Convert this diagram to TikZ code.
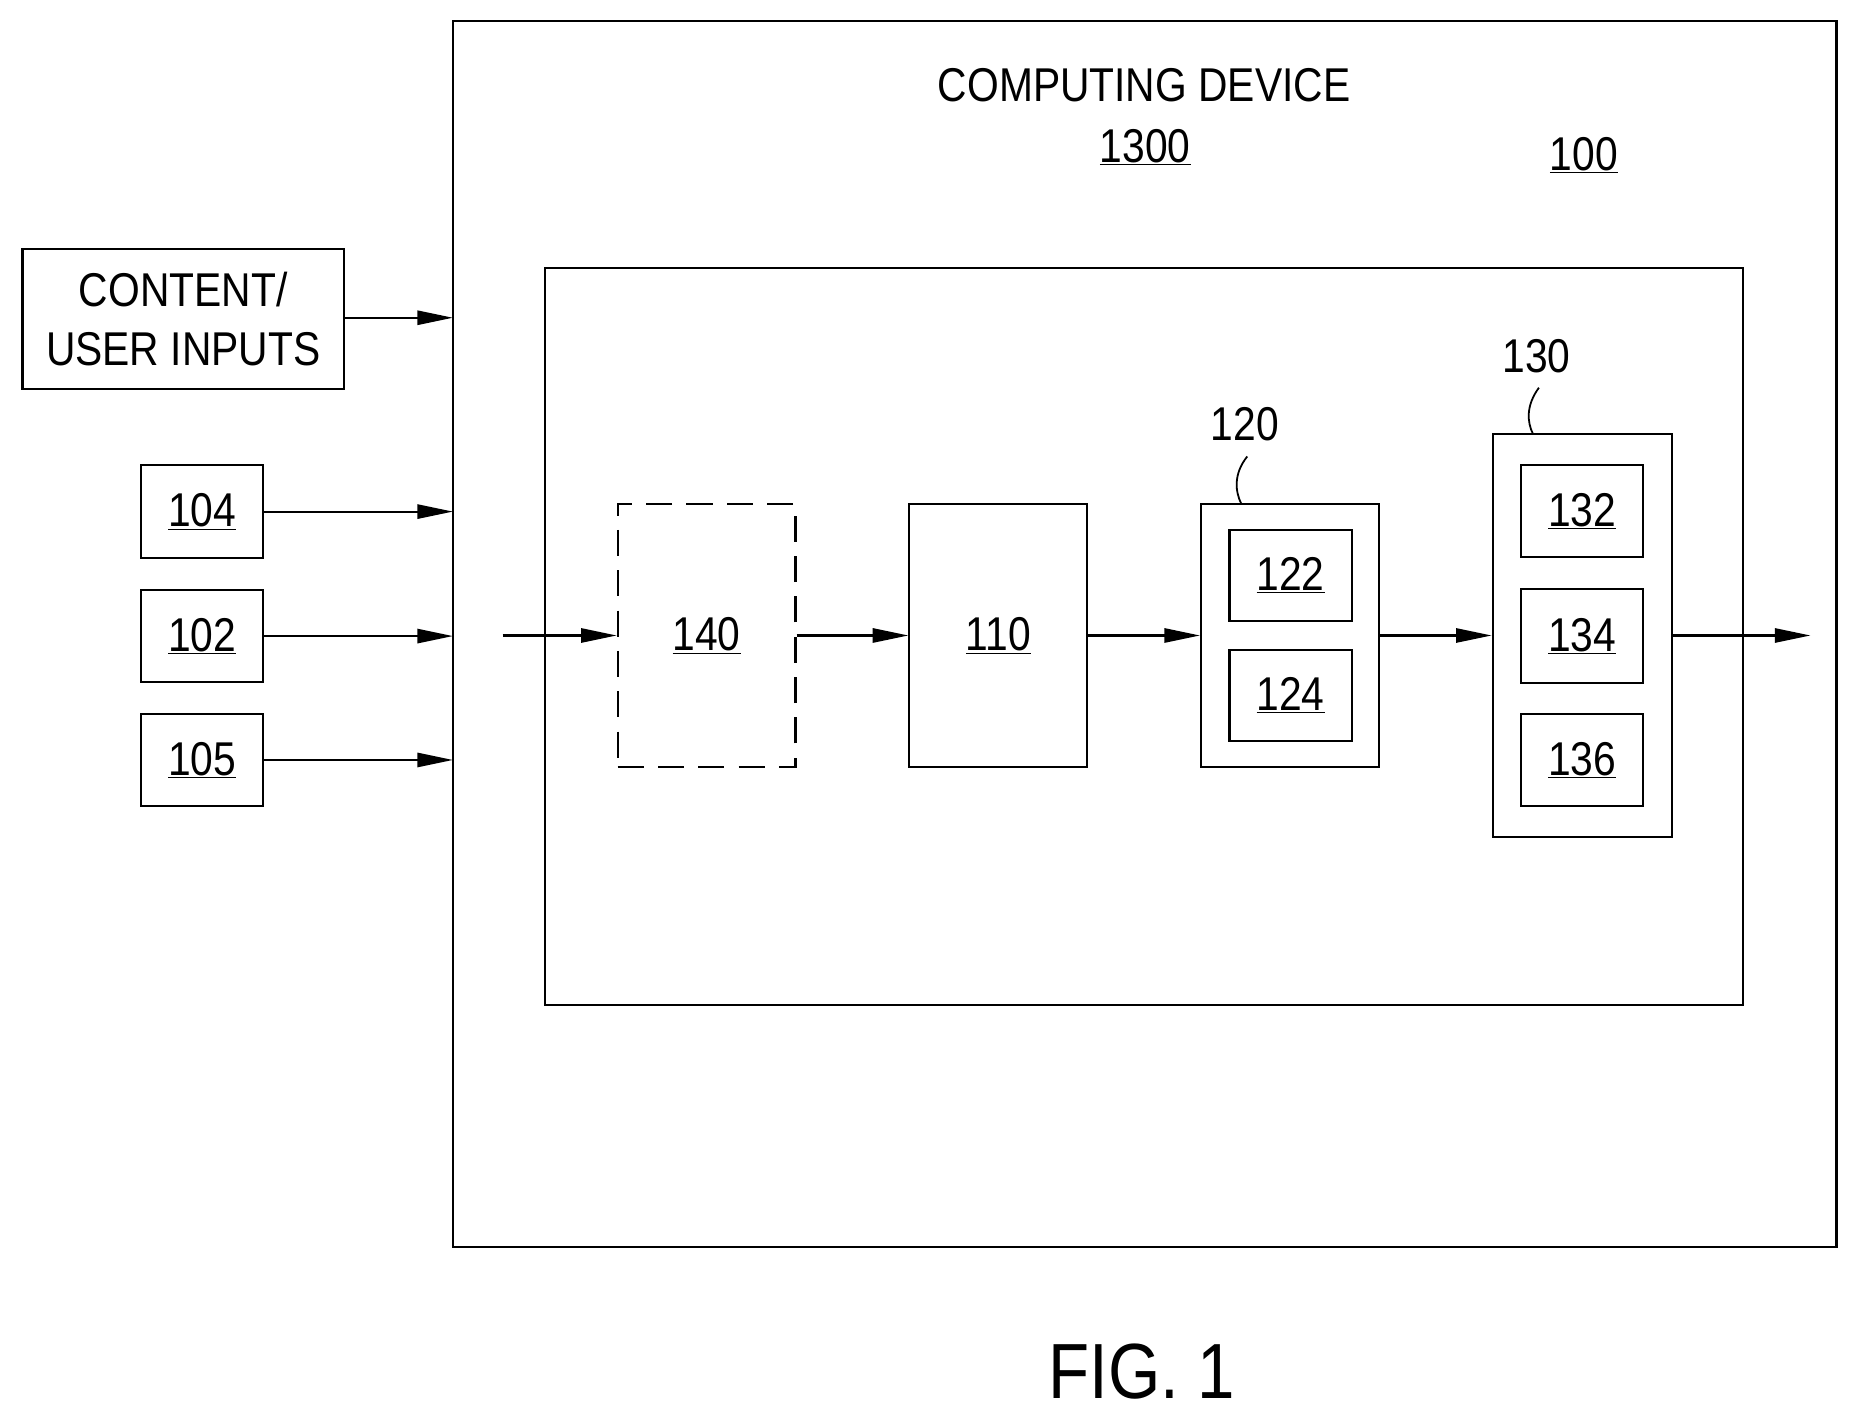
\documentclass[tikz,border=0pt]{standalone}
\usepackage{fontspec}
\setmainfont[FakeStretch=0.86]{Liberation Sans}
\usetikzlibrary{arrows.meta}
\begin{document}
\begin{tikzpicture}[x=1pt,y=-1pt,line width=1.8pt,
  box/.style={draw,rectangle,inner sep=0},
  lbl/.style={font=\fontsize{40}{44}\selectfont,inner sep=0},
  arr/.style={-{Triangle[length=30pt,width=12pt]}},
  ul/.style={lbl,execute at begin node={\setbox0\hbox\bgroup},execute at end node={\egroup\underline{\box0}}}]
\useasboundingbox (0,0) rectangle (1568,1200);
\newcommand\ubox[5]{\draw[box,#5] (#1) rectangle (#2); \node[lbl] (#3) at ($ (#1)!0.5!(#2) $) {\underline{#4}};}
\draw (382,18) rectangle (1549,1052);
\coordinate (outW) at (382,0);
\node[lbl] (title) at (965,72) {COMPUTING DEVICE};
\node[lbl] (n1300) at (966,124) {\underline{1300}};
\node[lbl] (n100) at (1336,131) {\underline{100}};
\draw (460,226) rectangle (1470,848);
% left inputs
\node[draw,minimum width=271pt,minimum height=118pt,inner sep=0,align=center,font=\fontsize{40}{50}\selectfont] (cui) at (154.5,269) {CONTENT/\\USER INPUTS};
\foreach \n/\y in {104/431.5,102/536.5,105/641}{
  \node[draw,minimum width=103pt,minimum height=78pt,inner sep=0,lbl] (b\n) at (170.5,\y) {\underline{\n}};
  \coordinate (t\n) at (382,\y);
  \draw[arr] (b\n.east) -- (t\n);
}
\coordinate (tc) at (382,268);
\draw[arr] (cui.east |- tc) -- (tc);
% chain
\node[draw,dash pattern=on 22pt off 12pt,minimum width=150pt,minimum height=222pt,inner sep=0,lbl] (b140) at (596,536) {\underline{140}};
\node[draw,minimum width=150pt,minimum height=222pt,inner sep=0,lbl] (b110) at (842,536) {\underline{110}};
\node[draw,minimum width=150pt,minimum height=222pt,inner sep=0] (b120) at (1088,536) {};
\node[draw,minimum width=103pt,minimum height=77pt,inner sep=0,lbl] (b122) at (1088.5,485.5) {\underline{122}};
\node[draw,minimum width=103pt,minimum height=77pt,inner sep=0,lbl] (b124) at (1088.5,586.5) {\underline{124}};
\node[draw,minimum width=151pt,minimum height=340pt,inner sep=0] (b130) at (1334.5,536) {};
\node[draw,minimum width=103pt,minimum height=78pt,inner sep=0,lbl] (b132) at (1334.5,431) {\underline{132}};
\node[draw,minimum width=103pt,minimum height=79pt,inner sep=0,lbl] (b134) at (1334.5,536.5) {\underline{134}};
\node[draw,minimum width=103pt,minimum height=78pt,inner sep=0,lbl] (b136) at (1334.5,641) {\underline{136}};
\coordinate (in140) at (424,536);
\coordinate (out) at (1527,536);
\draw[arr] (in140) -- (b140.west);
\draw[arr] (b140.east) -- (b110.west);
\draw[arr] (b110.east) -- (b120.west);
\draw[arr] (b120.east) -- (b130.west);
\draw[arr] (b130.east) -- (out);
% labels
\node[lbl] (l120) at (1050,358) {120};
\node[lbl] (l130) at (1296,300) {130};
\draw[line width=1.5pt] (1052,385) .. controls (1040,400) and (1042,415) .. (1047,425);
\draw[line width=1.5pt] (1298,327) .. controls (1287,342) and (1288,356) .. (1293,366);
\node[font=\fontsize{66}{70}\selectfont,inner sep=0] (fig) at (963,1157) {FIG. 1};
\end{tikzpicture}
\end{document}
